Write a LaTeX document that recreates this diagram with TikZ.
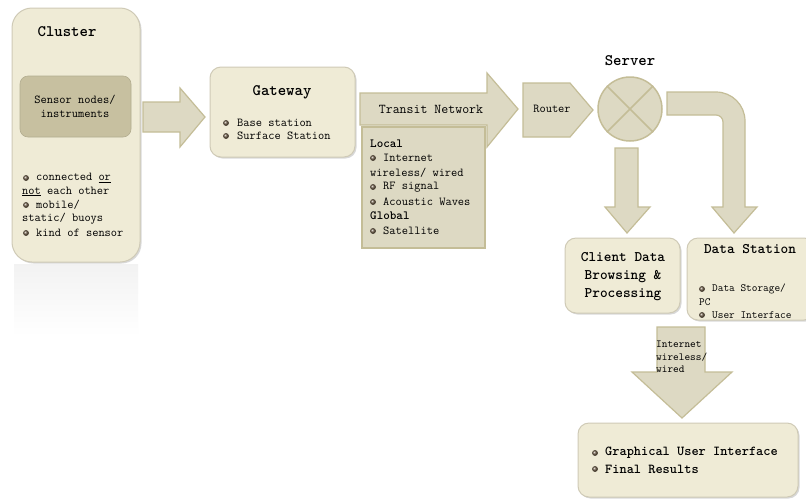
\documentclass[tikz,border=0pt]{standalone}
\renewcommand*\familydefault{\ttdefault}
\usetikzlibrary{shadows}
\definecolor{boxfill}{HTML}{EFEBD6}
\definecolor{boxedge}{HTML}{CFCAB6}
\definecolor{arrfill}{HTML}{DDD9C3}
\definecolor{arredge}{HTML}{C4BD97}
\definecolor{innerfill}{HTML}{C7C0A0}
\definecolor{ballc}{HTML}{6B5A45}
\tikzset{
  cbox/.style={rounded corners=11pt, fill=boxfill, draw=boxedge, line width=1pt,
    drop shadow={opacity=0.3, shadow xshift=1.5pt, shadow yshift=-1.5pt}},
  barrow/.style={fill=arrfill, draw=arredge, line width=1.2pt, line join=miter},
  txt/.style={inner sep=0pt, anchor=west, font=\fontsize{12.1}{13}\selectfont},
  ttl/.style={inner sep=0pt, font=\bfseries\fontsize{16}{18}\selectfont},
}
\newcommand{\ballat}[1]{\shade[ball color=ballc] #1 circle (2.9pt);}
\begin{document}
\begin{tikzpicture}[x=1pt,y=-1pt]
\useasboundingbox (0,0) rectangle (806,499);
\fill[white] (0,0) rectangle (806,499);

% ---- Cluster ----
\shade[top color=black!5, bottom color=white] (14,264) rectangle (138,336);
\node[cbox, rounded corners=20pt, minimum width=128pt, minimum height=254pt, inner sep=0pt] (cluster) at (76,135) {};
\node[ttl] (clt) at (67,32) {Cluster};
\node[rounded corners=8pt, fill=innerfill, draw=innerfill!90!black, line width=0.6pt,
      minimum width=111pt, minimum height=61pt, inner sep=0pt] (sensor) at (75.5,106.5) {};
\node[inner sep=0pt, align=center, font=\fontsize{12.1}{14}\selectfont] (sensort) at (75,106) {Sensor nodes/\\instruments};
\ballat{(26,178)}
\node[txt] (c1) at (36,178) {connected \underline{or}};
\node[txt] (c2) at (22,191.5) {\underline{not} each other};
\ballat{(26,205)}
\node[txt] (c3) at (36,205) {mobile/};
\node[txt] (c4) at (22,219) {static/ buoys};
\ballat{(26,233)}
\node[txt] (c5) at (36,233) {kind of sensor};

% ---- arrow 1 ----
\draw[barrow] (143,102) -- (180,102) -- (180,88) -- (205,117) -- (180,147) -- (180,132) -- (143,132) -- cycle;

% ---- Gateway ----
\node[cbox, minimum width=145pt, minimum height=90pt, inner sep=0pt] (gateway) at (282.5,112) {};
\node[ttl] (gwt) at (282,92) {Gateway};
\ballat{(226,123)}
\node[txt] (g1) at (237,123) {Base station};
\ballat{(226,136)}
\node[txt] (g2) at (237,136) {Surface Station};

% ---- Transit network ----
\draw[barrow] (360,93) -- (487,93) -- (487,73) -- (518,109) -- (487,147) -- (487,125) -- (360,125) -- cycle;
\node[inner sep=0pt, font=\fontsize{13.5}{15}\selectfont] (transit) at (431,109) {Transit Network};
\node[fill=arrfill, draw=arredge, line width=2pt, minimum width=123pt, minimum height=121pt, inner sep=0pt] (local) at (423.5,187.5) {};
\node[txt, font=\bfseries\fontsize{12.5}{13}\selectfont] (l1) at (370,144) {Local};
\ballat{(373,158)}
\node[txt] (l2) at (383,158) {Internet};
\node[txt] (l3) at (370,173) {wireless/ wired};
\ballat{(373,187)}
\node[txt] (l4) at (383,187) {RF signal};
\ballat{(373,202)}
\node[txt] (l5) at (383,202) {Acoustic Waves};
\node[txt, font=\bfseries\fontsize{12.5}{13}\selectfont] (l6) at (370,216) {Global};
\ballat{(373,231)}
\node[txt] (l7) at (383,231) {Satellite};

% ---- Router ----
\draw[barrow] (523,83) -- (570,83) -- (593,110) -- (570,137) -- (523,137) -- cycle;
\node[inner sep=0pt, font=\fontsize{12.1}{13}\selectfont] (router) at (552,109) {Router};

% ---- Server ----
\node[circle, fill=arrfill, draw=arredge, line width=1.5pt, minimum size=64pt, inner sep=0pt] (server) at (630,109) {};
\draw[arredge, line width=1.5pt] (server.45) -- (server.225) (server.135) -- (server.315);
\node[ttl] (servert) at (630,61) {Server};

% ---- down arrow ----
\draw[barrow] (615,148) -- (638,148) -- (638,207) -- (650,207) -- (627,233) -- (605,207) -- (615,207) -- cycle;

% ---- bent arrow ----
\draw[barrow] (667,92) [rounded corners=29pt] -- (745,92) -- (745,160) [sharp corners] -- (745,207) -- (757,207) -- (734,233) -- (712,207) -- (723,207) -- (723,160) [rounded corners=7pt] -- (723,115) -- (700,115) [sharp corners] -- (667,115) -- cycle;

% ---- Client data ----
\node[cbox, minimum width=115pt, minimum height=75pt, inner sep=0pt] (client) at (622.5,275.5) {};
\node[inner sep=0pt, align=center, font=\bfseries\fontsize{14.6}{18}\selectfont] (clientt) at (623,277) {Client Data\\Browsing \&\\Processing};

% ---- Data station ----
\node[cbox, minimum width=128pt, minimum height=82pt, inner sep=0pt] (station) at (751,279) {};
\node[ttl, font=\bfseries\fontsize{14.6}{16}\selectfont] (stationt) at (750,249) {Data Station};
\ballat{(702,289)}
\node[txt, font=\fontsize{11}{12}\selectfont] (d1) at (712,289) {Data Storage/};
\node[txt, font=\fontsize{11}{12}\selectfont] (d2) at (699,302) {PC};
\ballat{(702,315)}
\node[txt, font=\fontsize{11}{12}\selectfont] (d3) at (712,315) {User Interface};

% ---- Internet arrow ----
\draw[barrow] (657,327) -- (705,327) -- (705,372) -- (732,372) -- (682,418) -- (632,372) -- (657,372) -- cycle;
\node[inner sep=0pt, anchor=north west, align=left, font=\fontsize{10.8}{12.2}\selectfont] (inet) at (656,341) {Internet\\wireless/\\wired};

% ---- GUI ----
\node[cbox, minimum width=220pt, minimum height=74pt, inner sep=0pt] (gui) at (688,460) {};
\ballat{(595,453)}
\node[txt, font=\bfseries\fontsize{13.7}{15}\selectfont] (gui1) at (605,453) {Graphical User Interface};
\ballat{(595,469)}
\node[txt, font=\bfseries\fontsize{13.7}{15}\selectfont] (gui2) at (605,469) {Final Results};
\end{tikzpicture}
\end{document}
